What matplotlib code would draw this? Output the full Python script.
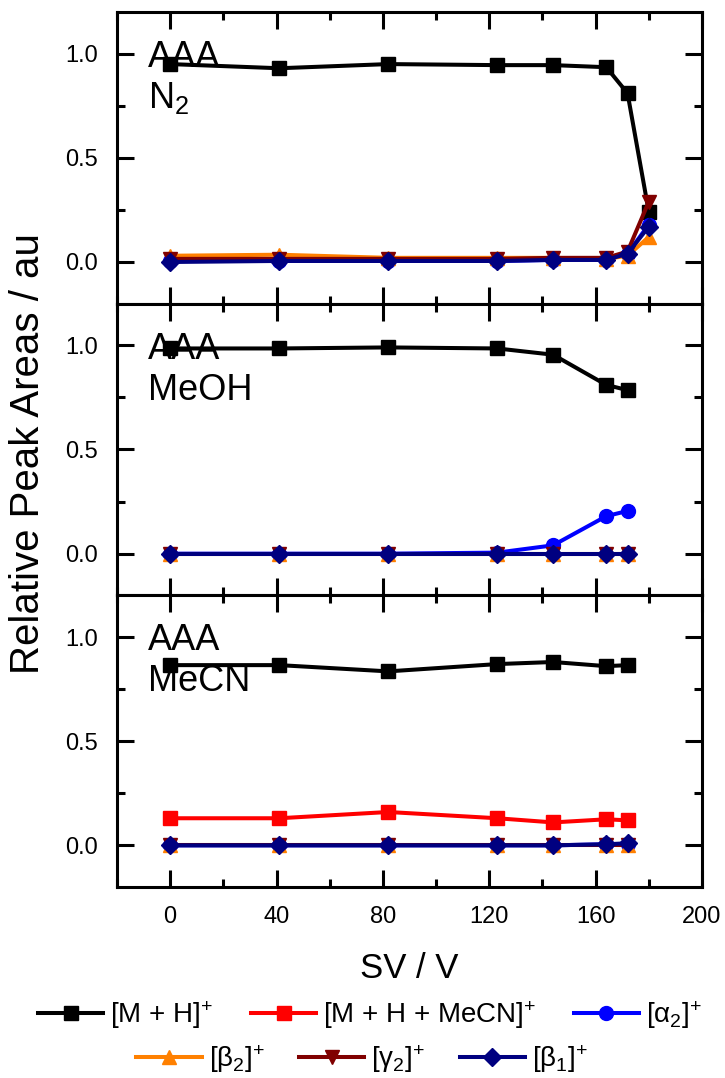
import matplotlib
matplotlib.use('Agg')
import matplotlib.pyplot as plt
from matplotlib.ticker import MultipleLocator

plt.rcParams['font.family'] = ['Liberation Sans', 'DejaVu Sans']
plt.rcParams['mathtext.fontset'] = 'custom'
plt.rcParams['mathtext.rm'] = 'Liberation Sans'
plt.rcParams['mathtext.it'] = 'Liberation Sans'

sv = [0, 41, 82, 123, 144, 164, 172, 180]

# N2 panel
n2_mh = [0.95, 0.93, 0.95, 0.945, 0.945, 0.935, 0.81, 0.24]
n2_a2 = [0.005, 0.005, 0.005, 0.005, 0.01, 0.01, 0.04, 0.18]
n2_b2 = [0.03, 0.035, 0.02, 0.02, 0.02, 0.015, 0.03, 0.12]
n2_g2 = [0.015, 0.015, 0.015, 0.015, 0.02, 0.02, 0.05, 0.29]
n2_b1 = [0.0, 0.005, 0.005, 0.005, 0.01, 0.01, 0.04, 0.17]

# MeOH panel
meoh_mh = [0.985, 0.985, 0.99, 0.985, 0.955, 0.81, 0.785]
meoh_a2 = [0.0, 0.0, 0.0, 0.005, 0.04, 0.18, 0.205]
meoh_b2 = [0.0, 0.0, 0.0, 0.0, 0.0, 0.0, 0.0]
meoh_g2 = [0.0, 0.0, 0.0, 0.0, 0.0, 0.0, 0.0]
meoh_b1 = [0.0, 0.0, 0.0, 0.0, 0.0, 0.0, 0.0]

# MeCN panel
mecn_mh = [0.865, 0.865, 0.835, 0.87, 0.88, 0.86, 0.865]
mecn_mecn = [0.13, 0.13, 0.16, 0.13, 0.11, 0.125, 0.12]
mecn_a2 = [0.0, 0.0, 0.0, 0.0, 0.0, 0.005, 0.005]
mecn_b2 = [0.0, 0.0, 0.0, 0.0, 0.0, 0.0, 0.0]
mecn_g2 = [0.0, 0.0, 0.0, 0.0, 0.0, 0.0, 0.0]
mecn_b1 = [0.0, 0.0, 0.0, 0.0, 0.0, 0.005, 0.01]

labels = [r'[M + H]$^{+}$', r'[M + H + MeCN]$^{+}$', r'[$\alpha_{2}$]$^{+}$',
          r'[$\beta_{2}$]$^{+}$', r'[$\gamma_{2}$]$^{+}$', r'[$\beta_{1}$]$^{+}$']
styles = [('black', 's'), ('#ff0000', 's'), ('#0000ff', 'o'),
          ('#ff8000', '^'), ('#800000', 'v'), ('#000080', 'D')]

panels = [
    ('AAA', 'N$_2$', sv, [n2_mh, None, n2_a2, n2_b2, n2_g2, n2_b1]),
    ('AAA', 'MeOH', sv[:7], [meoh_mh, None, meoh_a2, meoh_b2, meoh_g2, meoh_b1]),
    ('AAA', 'MeCN', sv[:7], [mecn_mh, mecn_mecn, mecn_a2, mecn_b2, mecn_g2, mecn_b1]),
]

fig = plt.figure(figsize=(7.25, 10.78), dpi=100)
left, right = 117 / 725, 702 / 725
top, bottom = 1 - 12 / 1078, 1 - 887 / 1078
h = (top - bottom) / 3

handles = [None] * 6
for i, (name1, name2, x, series) in enumerate(panels):
    ax = fig.add_axes([left, top - (i + 1) * h, right - left, h])
    for j, y in enumerate(series):
        if y is None:
            continue
        c, m = styles[j]
        ms = 10 if m in 'sov^' else 9.5
        ln, = ax.plot(x, y, color=c, marker=m, lw=2.9, ms=ms, label=labels[j])
        handles[j] = ln
    ax.set_xlim(-20, 200)
    ax.set_ylim(-0.2, 1.2)
    ax.xaxis.set_major_locator(MultipleLocator(40))
    ax.xaxis.set_minor_locator(MultipleLocator(20))
    ax.yaxis.set_major_locator(MultipleLocator(0.5))
    ax.yaxis.set_minor_locator(MultipleLocator(0.25))
    ax.tick_params(which='both', direction='in', top=True, right=True, width=2.2, labelsize=17, pad=14)
    ax.tick_params(which='major', length=12)
    ax.tick_params(which='minor', length=6)
    ax.yaxis.set_major_formatter(plt.FormatStrFormatter('%.1f'))
    for s in ax.spines.values():
        s.set_linewidth(2.2)
    if i < 2:
        ax.tick_params(labelbottom=False)
    else:
        ax.set_xlabel('SV / V', fontsize=25, labelpad=17)
    ax.text(0.053, 0.811, name1, transform=ax.transAxes, fontsize=26, va='baseline', ha='left')
    ax.text(0.053, 0.671, name2, transform=ax.transAxes, fontsize=26, va='baseline', ha='left')

fig.text(28 / 725, 1 - 454 / 1078, 'Relative Peak Areas / au', rotation=90, fontsize=29, va='center', ha='center')

fig.legend(handles[:3], labels[:3], loc='center', bbox_to_anchor=(370 / 725, 1 - 1015 / 1078), ncol=3,
           frameon=False, fontsize=20, handlelength=2.35, columnspacing=1.35, handletextpad=0.25,
           borderaxespad=0, borderpad=0)
fig.legend(handles[3:], labels[3:], loc='center', bbox_to_anchor=(362 / 725, 1 - 1059 / 1078), ncol=3,
           frameon=False, fontsize=20, handlelength=2.35, columnspacing=1.25, handletextpad=0.25,
           borderaxespad=0, borderpad=0)

fig.savefig('out.png', dpi=100)
